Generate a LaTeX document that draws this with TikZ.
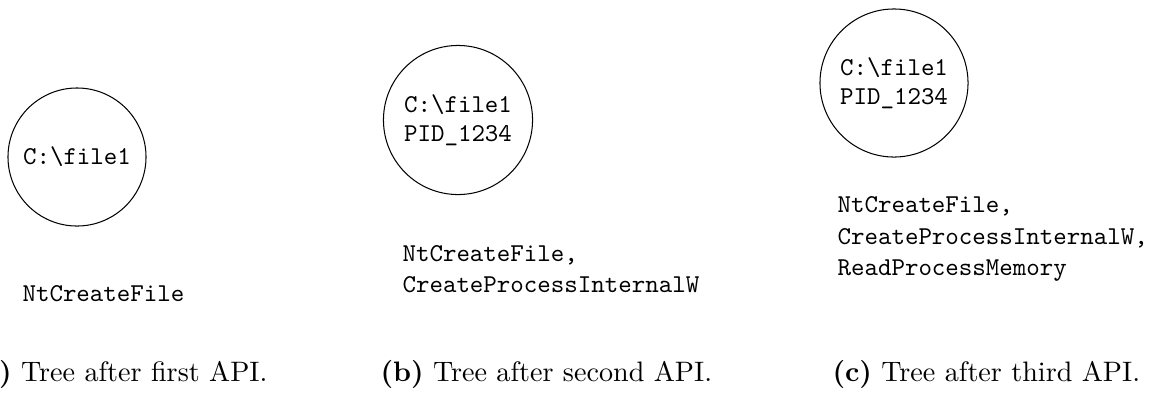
\documentclass[tikz,border=0pt]{standalone}
\usepackage{fontspec}
\begin{document}
\begin{tikzpicture}[x=0.389pt,y=-0.389pt,
  state/.style={draw,circle,inner sep=0pt,align=center,line width=0.4pt,
    font=\ttfamily\fontsize{10}{11.3}\selectfont},
  apis/.style={anchor=west,inner sep=0pt,align=left,
    font=\ttfamily\fontsize{10}{12.2}\selectfont},
  subcap/.style={inner sep=0pt,font=\fontsize{10.95}{13.6}\selectfont}]
\useasboundingbox (0,0) rectangle (1165,398);

% tree states
\node[state,minimum size=53.7pt] (ta) at (77,157) {C:\textbackslash file1};
\node[state,minimum size=58pt] (tb) at (458,120) {C:\textbackslash file1\\PID\_1234};
\node[state,minimum size=57.6pt] (tc) at (894,83) {C:\textbackslash file1\\PID\_1234};

% API call sequences
\node[apis] (aa) at (22,294) {NtCreateFile};
\node[apis] (ab) at (402,269) {NtCreateFile,\\CreateProcessInternalW};
\node[apis] (ac) at (837,239) {NtCreateFile,\\CreateProcessInternalW,\\ReadProcessMemory};

% sub-captions
\node[subcap,anchor=base east] (ca) at (268,381) {\textbf{(a)} Tree after first API.};
\node[subcap,anchor=base west] (cb) at (380,381) {\textbf{(b)} Tree after second API.};
\node[subcap,anchor=base west] (cc) at (832,381) {\textbf{(c)} Tree after third API.};
\end{tikzpicture}
\end{document}
